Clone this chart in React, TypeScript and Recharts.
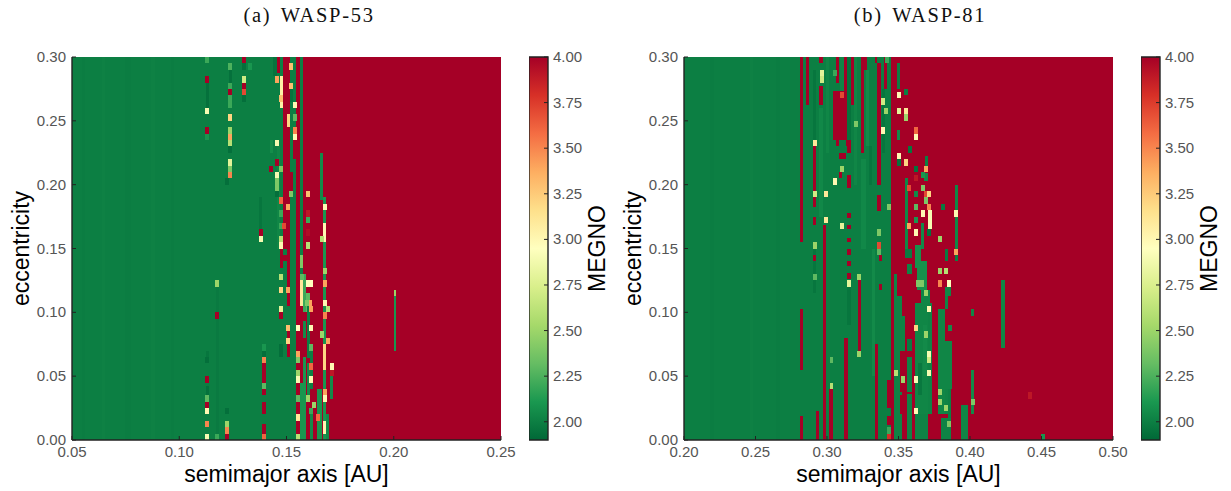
import React from 'react';
import { ComposedChart, Scatter, Bar, XAxis, YAxis, Label } from 'recharts';

// Grid runs: [colFrom, colTo, rowFrom, rowTo, MEGNO]; cells: [colCentre, rowCentre, MEGNO]
type Run = number[];
const COLS = 130;
const ROWS = 60;
const MEGNO_STOPS = ['#006837', '#1a9850', '#66bd63', '#a6d96a', '#d9ef8b', '#ffffbf', '#fee08b', '#fdae61', '#f46d43', '#d73027', '#a50026'];
const MEGNO_TICKS = [2, 2.25, 2.5, 2.75, 3, 3.25, 3.5, 3.75, 4];
const ECC_TICKS = [0, 0.05, 0.1, 0.15, 0.2, 0.25, 0.3];
const A_TICKS_53 = [0.05, 0.1, 0.15, 0.2, 0.25];
const A_TICKS_81 = [0.2, 0.25, 0.3, 0.35, 0.4, 0.45, 0.5];

const runs53: Run[] = [
  [0, 130, 0, 60, 2.0], [3, 4, 0, 60, 1.99], [9, 10, 0, 60, 2.01], [16, 18, 0, 60, 1.99], [24, 25, 0, 60, 2.01], [30, 31, 0, 60, 1.99],
  [40.5, 41.5, 52, 56, 1.94], [40.5, 41.5, 7, 8.5, 1.94], [40.5, 41.5, 12, 14, 1.96], [47.5, 48.5, 56, 58, 1.94], [56.7, 57.7, 33, 38, 1.96],
  [61, 62, 57, 60, 1.95], [43.5, 44.5, 1, 24, 1.98], [60, 61, 45, 47, 2.06], [66, 67, 53, 55, 1.95], [62, 63, 30, 46, 2.03],
  [70, 130, 0, 60, 4], [62, 63, 57.5, 60, 4], [64, 66, 30, 60, 4], [65, 66, 21, 30, 4], [65, 66, 13, 18, 4], [63, 64, 27, 30, 4], [64, 65, 28, 29, 4],
  [64, 67, 39, 42, 4], [67, 68, 44, 47, 4], [68, 69, 0, 60, 4], [69, 70, 0, 21, 4],
  [57.7, 58.7, 9, 12, 4], [57.7, 58.7, 4, 6, 4], [57.7, 58.7, 1, 2.5, 4],
  [63, 64, 52, 57, 3.05], [65, 66, 49, 51, 3.2], [69, 70, 21, 25, 3.1], [69, 70, 27, 29, 2.4],
  [75, 76.2, 37.6, 45, 2.05], [76, 77, 0, 38, 2.1], [77, 78, 0, 4, 2.05], [70, 71, 20, 26, 2.2], [71, 72, 20, 23, 2.3], [70, 71, 16, 18.6, 2.05],
  [71.2, 72, 12.8, 21, 2.0], [72, 73, 8, 15, 2.0], [71.2, 72, 6.5, 12, 2.05], [72, 73, 0, 4.5, 2.05], [74.2, 75.7, 0, 8, 2.1], [70, 71, 0, 13, 2.1],
  [69, 70, 0, 9, 2.1], [76, 77, 31, 34, 3.0], [76, 77, 11, 15, 3.2], [76, 77, 1, 3, 3.0], [78.3, 79, 6.5, 10, 2.05],
  [97.6, 98.3, 14, 22.5, 2.1], [97.6, 98.3, 22.5, 23.5, 2.5],
];
const cells53: Run[] = [
  [41, 59.5, 2.2], [41, 56.5, 4], [41, 51.5, 2.9], [41, 48.5, 4], [41, 47.5, 2.1],
  [48, 58.5, 2.25], [48, 55.5, 2.2], [48, 54.5, 4], [48, 53.5, 2.2], [48, 52.5, 2.2], [48, 50.5, 3.2], [48, 48.5, 2.5], [48, 47.5, 3.4], [48, 46.5, 2.6], [48, 45.5, 1.93], [48, 43.5, 2.8], [48, 42.5, 2.4], [48, 41.5, 3.5], [47, 40.5, 1.93],
  [52.2, 59.5, 4], [52.2, 58.5, 1.93], [52.2, 56.5, 2.7], [52.2, 55.5, 4], [52.2, 54.5, 3.7], [52.2, 53.5, 1.93], [54, 58.5, 2.1],
  [57.2, 32.5, 4], [57.2, 31.5, 2.9], [60.3, 42.5, 4],
  [62.2, 56.5, 3.4], [62.2, 46.5, 2.9], [62.2, 43.5, 4], [62.2, 41.5, 2.9], [62.2, 40.5, 2.4], [62.2, 39.5, 2.4], [62.2, 38.5, 1.93],
  [63.2, 53.5, 3.3], [63.2, 42.5, 2.4], [63.2, 37.5, 3.6], [63.2, 35.5, 2.2], [63.2, 33.5, 2.2], [64.3, 33.5, 3.7], [63.2, 31.5, 2.6], [63.2, 30.5, 3.0],
  [65.4, 36.5, 3.4], [66.5, 58.5, 3.3], [66.5, 55.5, 3.3], [66.5, 38.5, 2.4],
  [67.5, 52.5, 3.0], [67.5, 50.5, 2.3], [67.5, 48.5, 3.5], [67.5, 47.5, 3.0],
  [71.4, 38.5, 3.3], [71.4, 35.5, 3.9], [71.4, 34.5, 2.2], [71.4, 32.5, 3.95], [71.4, 30.5, 2.6], [76.6, 36.5, 3.0], [75.7, 31.5, 2.6],
  [41, 12.5, 1.93], [41, 9.5, 4], [41, 6.5, 2.3], [41, 5.5, 4], [41, 4.5, 3.0], [41, 2.5, 3.5], [41, 0.5, 2.9],
  [44, 24.5, 2.5], [44, 19.5, 4], [44, 0.5, 2.2], [47, 4.5, 1.93], [47, 2.5, 2.5], [47, 1.5, 3.5], [47, 0.5, 4],
  [58.2, 14.5, 2.1], [58.2, 13.5, 1.93], [58.2, 12.5, 3.5], [58.2, 8.5, 2.3], [58.2, 7.5, 4], [58.2, 0.5, 3.6],
  [63.2, 25.5, 2.6], [63.2, 23.5, 3.2], [63.2, 20.5, 2.8], [63.2, 19.5, 4], [63.2, 14.5, 1.93], [63.2, 13.5, 1.93],
  [69.6, 25.5, 2.3], [65.4, 23.5, 3.4], [65.4, 17.5, 3.3], [65.4, 15.5, 3.2],
  [68.6, 17.5, 2.95], [68.6, 13.5, 3.4], [68.6, 12.5, 2.4], [68.6, 10.5, 2.5], [68.6, 9.5, 2.9], [68.6, 6.5, 2.3], [68.6, 3.5, 3.1], [68.6, 0.5, 2.6],
  [71.6, 24.5, 2.95], [72.4, 24.5, 2.95], [72.1, 21.5, 3.4], [71.1, 21.5, 2.4], [72.4, 20.5, 3.4], [72.4, 17.5, 3.0], [72.4, 14.5, 2.3], [72.4, 11.5, 3.6], [72.4, 9.5, 3.0], [71.4, 6.5, 2.5], [72.4, 4.5, 2.2], [73.4, 5.5, 2.5], [74.5, 3.5, 3.6],
  [76.7, 26.5, 2.5], [76.7, 24.5, 3.4], [76.7, 21.5, 3.0], [76.7, 19.5, 3.5], [75.7, 16.5, 2.5], [77.7, 20.5, 2.6], [77.7, 15.5, 3.4], [78.7, 11.5, 3.0], [78.7, 10.5, 3.9], [76.7, 7.5, 3.4], [76.7, 6.5, 3.0],
];

const runs81: Run[] = [
  [0, 130, 0, 60, 2.0], [8, 9, 0, 60, 1.99], [20, 21, 0, 60, 2.01], [28, 29, 0, 60, 1.99],
  [39, 40, 23, 30, 1.96], [39, 40, 47, 58, 1.96], [41, 42, 35, 52, 2.04], [43, 44, 45, 60, 2.03], [47.3, 48.6, 54, 60, 2.03],
  [49.5, 50.5, 45, 60, 1.95], [51.5, 52.5, 40, 60, 2.03], [53.5, 55, 30, 44, 2.04], [55, 56, 46, 58, 2.05], [56, 57, 40, 46, 1.96], [57, 58, 10, 30, 2.05], [60, 61, 45, 55, 1.96], [49.5, 50.5, 18, 24, 1.96],
  [62.7, 130, 0, 60, 4],
  [35, 36, 31, 60, 4], [35, 36, 11, 20.5, 4], [35, 36, 0, 3.7, 4], [37, 38, 52.5, 60, 4], [41, 42, 59, 60, 4], [41, 42, 52.5, 55.4, 4],
  [39, 40, 36.5, 46, 4], [39, 40, 33.7, 35, 4], [39, 40, 28, 29, 4], [42, 43, 0, 33.7, 4], [40, 41, 0, 4.6, 4], [44, 45, 0, 8, 4], [46, 47, 56, 60, 4],
  [48.6, 49.5, 47, 60, 4], [45, 48.6, 47, 54.6, 4], [46, 47, 46, 47, 4], [49, 50, 46, 47, 4], [49.5, 50.5, 45, 47, 4], [47, 49, 44, 45, 4], [47, 48, 41, 42, 4],
  [49.5, 50.5, 39.5, 41.5, 4], [49.5, 50.5, 34.8, 35.6, 4], [49.5, 50.5, 33, 33.7, 4], [49.5, 50.5, 31, 31.7, 4], [49.5, 50.5, 29, 30, 4], [49.5, 50.5, 27.3, 28, 4], [49.5, 50.5, 25.3, 26.1, 4],
  [50.5, 51.5, 52.5, 60, 4], [53.5, 55.5, 58, 60, 4], [53.5, 54.5, 45, 58, 4], [57.8, 58.6, 59, 60, 4], [58.6, 59.6, 40, 59, 4], [58.6, 59.6, 35.8, 38.4, 4], [59, 60, 28, 29, 4], [59, 60, 23.5, 24.5, 4],
  [60.6, 61.6, 55, 60, 4], [52.6, 53.6, 14, 25.3, 4], [48.6, 49.6, 0, 16, 4], [57.8, 58.8, 0, 15, 4],
  [61.6, 62.7, 5, 9.4, 4], [61.6, 62.7, 2.4, 3.8, 4], [61.6, 62.7, 0, 1, 3.8],
  [64.6, 65.6, 55, 59, 2.0], [64.6, 65.6, 47, 48.5, 2.05], [67, 68, 30, 41, 2.03], [68, 69, 45, 46, 1.96], [73, 74, 43, 44.5, 2.0], [72.8, 73.8, 40.5, 41.8, 2.05], [71.7, 72.7, 30, 34, 2.05], [82, 83, 30, 40, 2.03], [82, 83, 28, 30, 2.0], [74, 75, 33, 36, 2.9],
  [63.6, 64.6, 0, 26, 2.02], [64.6, 66, 0, 22.5, 2.02], [66, 67, 14, 19.5, 2.02], [67.7, 69, 14, 15.8, 1.98], [67.7, 69, 7.5, 13, 2.02], [67.7, 69, 0, 7.2, 2.02], [67, 69, 28.5, 30, 1.98], [67.7, 69, 26, 27.5, 2.02],
  [70, 71.7, 27, 30.5, 2.08], [70.7, 73.5, 23.5, 28, 2.08], [71.7, 74.5, 4, 23.5, 2.03], [70, 71.7, 4, 21.5, 2.03], [70, 74, 0, 4, 2.02], [74, 75, 4, 21.5, 2.02], [70.7, 71.7, 21.5, 23.5, 4],
  [72.5, 73.5, 10, 18, 2.05], [71, 72, 7, 12, 1.97],
  [79, 80, 28, 30, 1.98], [79, 81, 22.5, 24, 2.03], [79, 80, 20.5, 22.5, 2.02], [77, 79, 4, 20.5, 2.03], [79, 81.1, 8, 15.5, 2.03], [79, 80, 4, 8, 2.02], [80, 81, 3, 8, 2.0], [78, 81, 0, 3.5, 2.02], [80, 81, 17, 18, 2.02],
  [84, 86, 0, 5.5, 2.03], [87, 88, 4, 11, 2.05], [87, 88, 19.5, 20.5, 2.03], [96, 97.3, 14.4, 25, 2.03],
  [65.6, 67.7, 7.5, 14, 4], [65.6, 67.7, 4, 7, 4], [66, 67.5, 0, 3.5, 4],
];
const cells81: Run[] = [
  [41.8, 57.5, 2.8], [41.8, 56.5, 2.7], [45.8, 57.5, 2.2], [47.9, 54, 3.7], [52.1, 49.5, 2.4], [60.2, 53, 2.7], [60.2, 48.5, 3.0], [61.1, 51.5, 2.5], [39.7, 46.5, 3.1], [39.7, 38.5, 2.7], [39.7, 30.5, 2.5],
  [42.9, 38.5, 3.1], [42.9, 34.5, 3.1], [45.8, 40.5, 3.0], [48, 42.5, 2.5], [48, 33.5, 2.8], [59.2, 32.5, 2.4], [59.2, 30.5, 3.7], [62.1, 36.5, 2.4], [61.5, 59.5, 2.2],
  [65.1, 54, 3.0], [65.1, 51.5, 2.8], [65.1, 44.5, 3.0], [65.1, 43.5, 1.95], [67.3, 54.5, 2.0], [67.3, 51.5, 3.1], [67.3, 50.5, 2.5], [67.3, 43.5, 3.2], [70.2, 48.5, 3.6], [70.2, 47.5, 3.0], [70.2, 42.5, 1.95],
  [73.3, 42.5, 3.4], [72.3, 41.5, 2.1], [72.3, 39.5, 2.4], [70.2, 41, 3.9], [68.3, 39.5, 3.7], [70.2, 38.5, 2.05], [73.3, 38.5, 3.7], [74.3, 38.5, 3.2], [73.3, 37.5, 2.4], [74.3, 36.5, 3.5], [70.2, 36.5, 2.3],
  [72.3, 35.5, 3.0], [74.3, 32.5, 1.95], [68.3, 33.5, 3.4], [70.2, 32.5, 3.0], [70.2, 34.5, 2.1], [77.5, 31.5, 2.5], [78.6, 36.5, 1.98], [82.4, 35.5, 3.0], [82.4, 29.5, 3.4],
  [39.7, 25.5, 2.3], [50, 24.5, 2.8], [53.1, 25.5, 2.5], [53.1, 13.5, 2.5], [44.7, 12.5, 2.3], [44.7, 8.5, 2.6], [59.2, 29.5, 2.3],
  [64.2, 10.5, 2.6], [66.3, 9.5, 2.5], [70.3, 17.5, 3.2], [70.3, 9.5, 2.9], [70.3, 4.5, 3.0], [71, 24.5, 2.4], [72, 24.5, 2.4], [73.3, 23, 2.5], [73.3, 16.5, 2.5], [74.3, 20.5, 3.0], [74.3, 13.5, 2.9], [74.3, 12.5, 2.7], [74.3, 10.5, 2.9],
  [77.5, 26.5, 2.5], [77.5, 24.5, 3.5], [79.4, 26.5, 2.6], [80.4, 24.5, 2.95], [77.5, 7.5, 2.5], [77.5, 6, 2.5], [79.4, 5, 2.5], [80.4, 2.5, 2.4], [80.6, 17.5, 2.05], [87.5, 6, 2.4], [104.8, 7, 3.9], [108.8, 0.5, 2.1], [62.1, 1.5, 2.2],
];

function colorOf(v: number) {
  const t = Math.max(0, Math.min(1, (v - 1.9) / 2.1)) * (MEGNO_STOPS.length - 1);
  const i = Math.min(MEGNO_STOPS.length - 2, Math.floor(t));
  const f = t - i;
  const rgb = (h: string) => [1, 3, 5].map((k) => parseInt(h.slice(k, k + 2), 16));
  const a = rgb(MEGNO_STOPS[i]);
  const b = rgb(MEGNO_STOPS[i + 1]);
  return `rgb(${a.map((c, n) => Math.round(c + (b[n] - c) * f)).join(',')})`;
}

const PLOT_W = 429;
const PLOT_H = 383;
const E_MAX = 0.3;

function buildPoints(runs: Run[], cells: Run[], a0: number, a1: number) {
  const dA = (a1 - a0) / COLS;
  const dE = E_MAX / ROWS;
  const all = [...runs, ...cells.map(([c, r, v]) => [c - 0.6, c + 0.6, r - 0.5, r + 0.5, v])];
  return all.map(([c0, c1, r0, r1, v]) => ({
    a: a0 + ((c0 + c1) / 2) * dA,
    e: ((r0 + r1) / 2) * dE,
    wA: (c1 - c0) * dA,
    hE: (r1 - r0) * dE,
    v,
  }));
}

const axisColor = '#222';
const tickFill = '#555';
const TICK_FONT = 15;
const LABEL_FONT = 23;

const fmt = (v: number) => v.toFixed(2);

function BottomTick({ x, y, payload }: any) {
  return (
    <g>
      <line x1={x} x2={x} y1={y} y2={y - 4} stroke={axisColor} />
      <text x={x} y={y + 17} textAnchor="middle" fontSize={TICK_FONT} fill={tickFill} fontFamily="Liberation Sans">{fmt(payload.value)}</text>
    </g>
  );
}
function LeftTick({ x, y, payload }: any) {
  return (
    <g>
      <line x1={x} x2={x + 4} y1={y} y2={y} stroke={axisColor} />
      <text x={x - 6} y={y + 5} textAnchor="end" fontSize={TICK_FONT} fill={tickFill} fontFamily="Liberation Sans">{fmt(payload.value)}</text>
    </g>
  );
}
function TopTick({ x, y }: any) {
  return <line x1={x} x2={x} y1={y} y2={y + 4} stroke={axisColor} />;
}
function RightTick({ x, y }: any) {
  return <line x1={x} x2={x - 4} y1={y} y2={y} stroke={axisColor} />;
}
function ColorTick({ x, y, payload }: any) {
  return (
    <g>
      <line x1={x} x2={x - 4} y1={y} y2={y} stroke={axisColor} />
      <text x={x + 5} y={y + 5} textAnchor="start" fontSize={TICK_FONT} fill={tickFill} fontFamily="Liberation Sans">{fmt(payload.value)}</text>
    </g>
  );
}

const chartMargin = { top: 57, left: 0, right: 111, bottom: 0 };

function Heat({ a0, a1, runs, cells, aTicks, left }: { a0: number; a1: number; runs: Run[]; cells: Run[]; aTicks: number[]; left: number }) {
  const data = buildPoints(runs, cells, a0, a1);
  const shape = (p: any) => {
    const w = (p.payload.wA / (a1 - a0)) * PLOT_W;
    const h = (p.payload.hE / E_MAX) * PLOT_H;
    return <rect x={p.cx - w / 2} y={p.cy - h / 2} width={w} height={h} fill={colorOf(p.payload.v)} shapeRendering="crispEdges" />;
  };
  const axisLine = { stroke: axisColor, strokeWidth: 1.4 };
  const corners = [{ a: a0, e: 0 }, { a: a1, e: E_MAX }];
  return (
    <>
      <div className="heat" style={{ position: 'absolute', left, top: 0 }}>
        <ComposedChart width={612} height={491} margin={chartMargin} data={data}>
          <XAxis xAxisId="b" type="number" dataKey="a" domain={[a0, a1]} ticks={aTicks} height={51} tick={false} tickLine={false} axisLine={false} allowDataOverflow />
          <YAxis yAxisId="l" type="number" dataKey="e" domain={[0, E_MAX]} ticks={ECC_TICKS} width={72} tick={false} tickLine={false} axisLine={false} allowDataOverflow />
          <Scatter data={data} dataKey="e" xAxisId="b" yAxisId="l" isAnimationActive={false} shape={shape} />
        </ComposedChart>
      </div>
      <div style={{ position: 'absolute', left, top: 0 }}>
        <ComposedChart width={612} height={491} margin={chartMargin} data={corners}>
          <XAxis xAxisId="t" orientation="top" type="number" dataKey="a" domain={[a0, a1]} ticks={aTicks} height={0} tick={TopTick} tickLine={false} tickSize={0} tickMargin={0} axisLine={axisLine} interval={0} allowDataOverflow />
          <YAxis yAxisId="r" orientation="right" type="number" dataKey="e" domain={[0, E_MAX]} ticks={ECC_TICKS} width={0} tick={RightTick} tickLine={false} tickSize={0} tickMargin={0} axisLine={axisLine} interval={0} allowDataOverflow />
          <XAxis xAxisId="b" type="number" dataKey="a" domain={[a0, a1]} ticks={aTicks} height={51} tick={BottomTick} tickLine={false} tickSize={0} tickMargin={0} axisLine={axisLine} interval={0} allowDataOverflow>
            <Label value="semimajor axis [AU]" position="insideBottom" offset={9} fontSize={LABEL_FONT} fill="#000" fontFamily="Liberation Sans" />
          </XAxis>
          <YAxis yAxisId="l" type="number" dataKey="e" domain={[0, E_MAX]} ticks={ECC_TICKS} width={72} tick={LeftTick} tickLine={false} tickSize={0} tickMargin={0} axisLine={axisLine} interval={0} allowDataOverflow>
            <Label value="eccentricity" angle={-90} position="insideLeft" offset={0} dx={21} fontSize={LABEL_FONT} fill="#000" fontFamily="Liberation Sans" style={{ textAnchor: 'middle' }} />
          </YAxis>
          <Scatter data={corners} dataKey="e" xAxisId="b" yAxisId="l" isAnimationActive={false} shape={() => <g />} />
          <Scatter data={corners} dataKey="e" xAxisId="t" yAxisId="r" isAnimationActive={false} shape={() => <g />} />
        </ComposedChart>
      </div>
    </>
  );
}

const colorbarRows = [{ name: 'MEGNO', range: [1.9, 4.0] }];

function Colorbar({ left, id }: { left: number; id: string }) {
  return (
    <div style={{ position: 'absolute', left, top: 0 }}>
      <ComposedChart width={90} height={491} margin={{ top: 57, left: 0, right: 0, bottom: 51 }} data={colorbarRows} barCategoryGap={0} barGap={0}>
        <defs>
          <linearGradient id={id} x1="0" y1="1" x2="0" y2="0">
            {MEGNO_STOPS.map((c, i) => (
              <stop key={c} offset={i / (MEGNO_STOPS.length - 1)} stopColor={c} />
            ))}
          </linearGradient>
        </defs>
        <XAxis dataKey="name" hide />
        <Bar dataKey="range" fill={`url(#${id})`} stroke="#222" strokeWidth={1.4} isAnimationActive={false} />
        <YAxis orientation="right" type="number" domain={[1.9, 4.0]} ticks={MEGNO_TICKS} width={71} tick={ColorTick} tickLine={false} tickSize={0} tickMargin={0} axisLine={false} interval={0}>
          <Label value="MEGNO" angle={-90} position="insideRight" offset={0} dx={-22} fontSize={LABEL_FONT} fill="#000" fontFamily="Liberation Sans" style={{ textAnchor: 'middle' }} />
        </YAxis>
      </ComposedChart>
    </div>
  );
}

function Title({ text, center }: { text: string; center: number }) {
  return (
    <div style={{ position: 'absolute', left: center - 150, width: 300, top: 4, textAlign: 'center', fontFamily: 'Liberation Serif', fontSize: 20.5, letterSpacing: 1.7, wordSpacing: 3, lineHeight: '22px', color: '#111' }}>{text}</div>
  );
}

export default function App() {
  return (
    <div style={{ position: 'absolute', left: 0, top: 0, width: 1231, height: 491, background: '#fff', overflow: 'hidden' }}>
      <style>{`.heat .recharts-scatter { filter: blur(0.55px); }`}</style>
      <Title text="(a) WASP-53" center={309} />
      <Title text="(b) WASP-81" center={920} />
      <Heat a0={0.05} a1={0.25} runs={runs53} cells={cells53} aTicks={A_TICKS_53} left={0} />
      <Colorbar left={529} id="cb1" />
      <Heat a0={0.2} a1={0.5} runs={runs81} cells={cells81} aTicks={A_TICKS_81} left={612} />
      <Colorbar left={1141} id="cb2" />
    </div>
  );
}
